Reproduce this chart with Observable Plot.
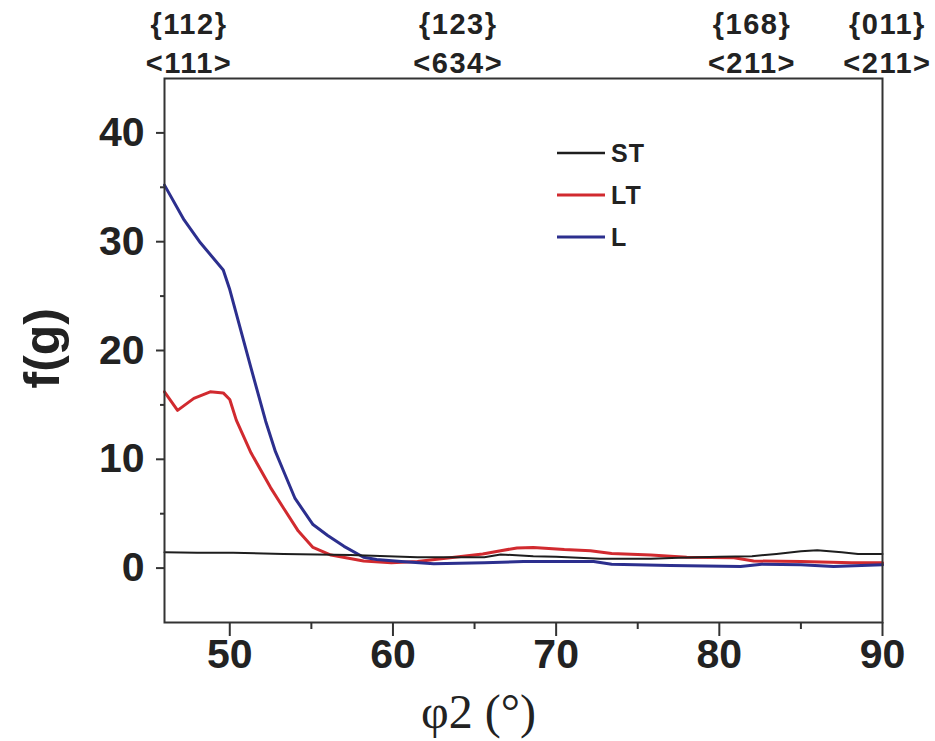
<!DOCTYPE html>
<html>
<head>
<meta charset="utf-8">
<script src="https://cdn.jsdelivr.net/npm/d3@7"></script>
<script src="https://cdn.jsdelivr.net/npm/@observablehq/plot@0.6"></script>
<style>
  html, body { margin: 0; padding: 0; background: #fff; }
  #chart { position: relative; width: 935px; height: 741px; }
  .toplab text { letter-spacing: 1.5px; }
</style>
</head>
<body>
<div id="chart"></div>
<script>
// ---- data ----
const xTicks = [50, 60, 70, 80, 90];
const xMinor = [55, 65, 75, 85];
const yTicks = [0, 10, 20, 30, 40];
const yMinor = [5, 15, 25, 35];

const topPos = [47.5, 64, 82, 90.3];
const topPlanes = ["{112}", "{123}", "{168}", "{011}"];
const topDirs = ["<111>", "<634>", "<211>", "<211>"];

const seriesNames = ["ST", "LT", "L"];
const seriesColors = ["#1e1e1e", "#d12a2f", "#2c2f8e"];

const stX = [46, 48, 50.2, 53.3, 57.4, 61.5, 65.6, 66.6, 68.6, 70, 72.7, 75.8, 77.5, 80, 82, 83.5, 85, 86, 87.5, 88.5, 90];
const stY = [1.45, 1.4, 1.4, 1.3, 1.2, 1.0, 1.0, 1.25, 1.1, 1.05, 0.85, 0.85, 0.95, 1.05, 1.1, 1.3, 1.55, 1.65, 1.45, 1.3, 1.3];

const ltX = [46, 46.8, 47.8, 48.8, 49.6, 50.0, 50.4, 51.3, 52.5, 53.3, 54.2, 55.1, 56.2, 58.2, 59.9, 61.5, 63.5, 65.5, 66.6, 67.6, 68.6, 70.5, 72.1, 73.4, 75.8, 78, 80.9, 82.1, 85, 88.1, 90];
const ltY = [16.2, 14.5, 15.6, 16.2, 16.1, 15.5, 13.6, 10.6, 7.4, 5.5, 3.4, 1.9, 1.2, 0.65, 0.5, 0.6, 0.95, 1.3, 1.6, 1.85, 1.9, 1.7, 1.6, 1.35, 1.2, 1.0, 0.95, 0.65, 0.6, 0.5, 0.5];

const lX = [46, 47.2, 48.2, 49.6, 50.0, 51.3, 52.2, 52.8, 53.3, 54.0, 55.1, 56.0, 57.0, 58.2, 59.0, 60.5, 62.5, 65.6, 68, 70, 72.3, 73.4, 77, 81.3, 82.6, 85, 87, 90];
const lY = [35.2, 32.0, 29.9, 27.4, 25.6, 18.4, 13.5, 10.7, 8.9, 6.4, 4.0, 3.0, 2.0, 1.0, 0.8, 0.6, 0.4, 0.5, 0.6, 0.6, 0.6, 0.35, 0.25, 0.15, 0.35, 0.3, 0.15, 0.3];

const xLabel = "φ2 (°)";
const yLabel = "f(g)";

// ---- tables ----
const toRows = (xs, ys, name) => xs.map((x, i) => ({x, y: ys[i], series: name}));
const stRows = toRows(stX, stY, "ST");
const ltRows = toRows(ltX, ltY, "LT");
const lRows = toRows(lX, lY, "L");
const topRows = topPos.map((x, i) => ({x, plane: topPlanes[i], dir: topDirs[i]}));

const axisColor = "#333";
const textColor = "#222";
const sans = "'Liberation Sans', Arial, Helvetica, sans-serif";

const plot = Plot.plot({
  width: 935,
  height: 741,
  marginLeft: 164,
  marginRight: 53,
  marginTop: 78,
  marginBottom: 119,
  style: {fontFamily: sans, color: textColor, background: "#fff", overflow: "visible"},
  x: {domain: [46, 90]},
  y: {domain: [-5, 45]},
  color: {domain: seriesNames, range: seriesColors},
  marks: [
    Plot.axisX(xMinor, {tickSize: 7, strokeWidth: 2, stroke: axisColor, tickFormat: () => "", label: null}),
    Plot.axisX(xTicks, {tickSize: 14, tickPadding: 2, strokeWidth: 2, stroke: axisColor, fontSize: 41, fontWeight: "bold", fill: textColor, tickFormat: d => String(d), label: null}),
    Plot.axisY(yMinor, {tickSize: 4, strokeWidth: 2, stroke: axisColor, tickFormat: () => "", label: null}),
    Plot.axisY(yTicks, {tickSize: 8, tickPadding: 12, strokeWidth: 2, stroke: axisColor, fontSize: 41, fontWeight: "bold", fill: textColor, tickFormat: d => String(d), label: null}),
    Plot.line(ltRows, {x: "x", y: "y", stroke: "series", strokeWidth: 3}),
    Plot.line(lRows, {x: "x", y: "y", stroke: "series", strokeWidth: 3}),
    Plot.line(stRows, {x: "x", y: "y", stroke: "series", strokeWidth: 2}),
    Plot.frame({stroke: axisColor, strokeWidth: 2}),
    Plot.text(topRows, {x: "x", text: "plane", frameAnchor: "top", lineAnchor: "middle", dy: -54, fontSize: 29, fontWeight: "bold", fill: textColor, className: "toplab"}),
    Plot.text(topRows, {x: "x", text: "dir", frameAnchor: "top", lineAnchor: "middle", dy: -15, fontSize: 29, fontWeight: "bold", fill: textColor, className: "toplab"}),
    Plot.text([yLabel], {frameAnchor: "left", lineAnchor: "middle", dx: -122, dy: 38, rotate: -90, fontSize: 50, fontWeight: "bold", fill: textColor}),
    Plot.text([xLabel], {frameAnchor: "bottom", lineAnchor: "middle", dx: -45, dy: 90, fontSize: 48, fontFamily: "'Liberation Serif', 'Times New Roman', serif", fill: textColor})
  ]
});

// legend inside the plot area
const svg = d3.select(plot);
const lg = svg.append("g").attr("class", "legend").attr("text-anchor", "start");
seriesNames.forEach((name, i) => {
  const y = 153 + i * 42;
  lg.append("line")
    .attr("x1", 557).attr("x2", 605)
    .attr("y1", y).attr("y2", y)
    .attr("stroke", seriesColors[i])
    .attr("stroke-width", i === 0 ? 2.5 : 3);
  lg.append("text")
    .attr("x", 611).attr("y", y)
    .attr("dy", "0.36em")
    .attr("font-size", 25)
    .attr("font-weight", "bold")
    .attr("font-family", sans)
    .attr("letter-spacing", "1px")
    .attr("fill", textColor)
    .attr("text-anchor", "start")
    .text(name);
});

document.getElementById("chart").appendChild(plot);
</script>
</body>
</html>
